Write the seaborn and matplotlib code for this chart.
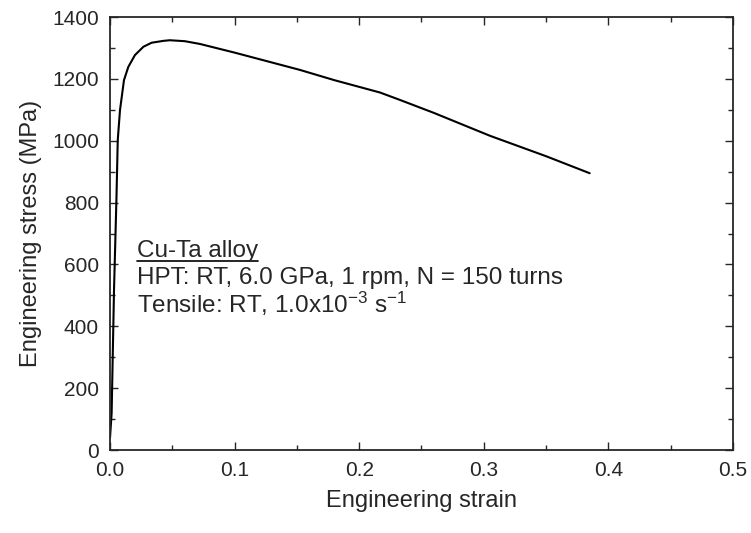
import pandas as pd
import seaborn as sns
import matplotlib.pyplot as plt
from matplotlib.ticker import MultipleLocator

# stress-strain curve
strain = [0.0, 0.0013, 0.0032, 0.0052, 0.0062, 0.008, 0.0112, 0.0147, 0.020,
          0.0268, 0.0334, 0.0428, 0.048, 0.060, 0.0722, 0.1, 0.13, 0.1525,
          0.18, 0.2167, 0.2327, 0.26, 0.305, 0.35, 0.385]
stress = [40, 120, 517, 820, 1002, 1099, 1196, 1239, 1277,
          1304, 1317, 1323, 1325, 1322, 1313, 1285, 1253, 1229,
          1196, 1156, 1132, 1090, 1016, 950, 895]
xticks = [0.0, 0.1, 0.2, 0.3, 0.4, 0.5]
yticks = [0, 200, 400, 600, 800, 1000, 1200, 1400]

df = pd.DataFrame({'strain': strain, 'stress': stress})

sns.set_style('ticks')
plt.rcParams['font.family'] = ['Liberation Sans', 'DejaVu Sans']
plt.rcParams['mathtext.fontset'] = 'custom'
plt.rcParams['mathtext.rm'] = 'Liberation Sans'
plt.rcParams['mathtext.it'] = 'Liberation Sans'

fig = plt.figure(figsize=(7.51, 5.33), dpi=100)
ax = fig.add_axes([0.1465, 0.1557, 0.8295, 0.8123])

sns.lineplot(x='strain', y='stress', data=df, sort=False, estimator=None,
             color='black', linewidth=1.5, ax=ax)

ax.set_xlim(0, 0.5)
ax.set_ylim(0, 1400)
ax.set_xticks(xticks)
ax.set_xticklabels(['%.1f' % t for t in xticks])
ax.set_yticks(yticks)
ax.xaxis.set_minor_locator(MultipleLocator(0.05))
ax.yaxis.set_minor_locator(MultipleLocator(100))
ax.tick_params(which='both', direction='in', top=True, right=True,
               labelsize=15, width=1.0, pad=8)
ax.tick_params(which='major', length=6)
ax.tick_params(which='minor', length=3.5)
for s in ax.spines.values():
    s.set_linewidth(1.3)

ax.set_xlabel('Engineering strain', fontsize=17, labelpad=7)
ax.set_ylabel('Engineering stress (MPa)', fontsize=17, labelpad=7)

fs = 17.5
t1 = ax.text(0.043, 0.459, 'Cu-Ta alloy', transform=ax.transAxes, fontsize=fs, va='center')
ax.text(0.043, 0.397, 'HPT: RT, 6.0 GPa, 1 rpm, N = 150 turns',
        transform=ax.transAxes, fontsize=fs, va='center')
ax.text(0.043, 0.337, r'Tensile: RT, 1.0x10$^{-3}$ s$^{-1}$',
        transform=ax.transAxes, fontsize=fs, va='center')

# underline for the alloy name
fig.canvas.draw()
bb = t1.get_window_extent().transformed(ax.transAxes.inverted())
ax.plot([bb.x0, bb.x1], [bb.y0 + 0.003, bb.y0 + 0.003], transform=ax.transAxes,
        color='black', linewidth=1.2)

plt.savefig('out.png', dpi=100)
